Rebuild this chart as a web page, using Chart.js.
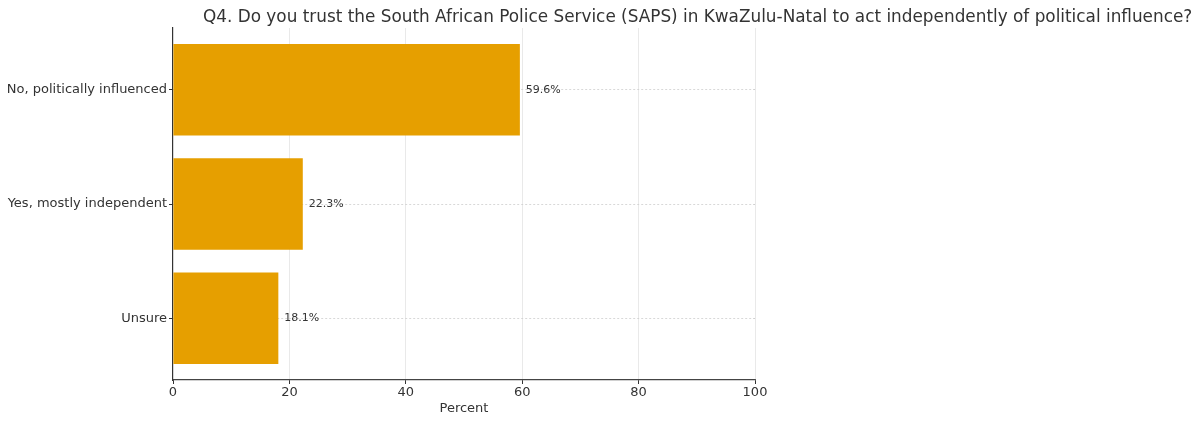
<!DOCTYPE html>
<html>
<head>
<meta charset="utf-8">
<script src="https://cdn.jsdelivr.net/npm/chart.js@4/dist/chart.umd.min.js"></script>
<style>
  html, body { margin: 0; padding: 0; background: #fff; }
  #wrap { width: 1200px; height: 422px; position: relative; }
</style>
</head>
<body>
<div id="wrap"><canvas id="q4Chart" width="1200" height="422"></canvas></div>
<script>
// Survey data
const chartTitle = 'Q4. Do you trust the South African Police Service (SAPS) in KwaZulu-Natal to act independently of political influence?';
const categories = ['No, politically influenced', 'Yes, mostly independent', 'Unsure'];
const percentValues = [59.6, 22.3, 18.1];
const xTicks = [0, 20, 40, 60, 80, 100];
const xAxisLabel = 'Percent';

const FONT = '"DejaVu Sans", "Liberation Sans", sans-serif';
const TEXT = '#333333';

// title drawn left-anchored like the original figure (fit to ~990px wide)
const titlePlugin = {
    id: 'leftTitle',
    afterDraw(chart) {
        const c = chart.ctx;
        c.save();
        c.font = '18px ' + FONT;
        const w = c.measureText(chartTitle).width;
        const size = Math.min(18, 18 * 990 / w);
        c.font = size.toFixed(2) + 'px ' + FONT;
        c.fillStyle = TEXT;
        c.textAlign = 'left';
        c.textBaseline = 'alphabetic';
        c.fillText(chartTitle, 203, 22);
        c.restore();
    }
};

// value labels at the end of each bar
const valueLabels = {
    id: 'valueLabels',
    afterDatasetsDraw(chart) {
        const c = chart.ctx;
        const meta = chart.getDatasetMeta(0);
        c.save();
        c.font = '11px ' + FONT;
        c.fillStyle = TEXT;
        c.textAlign = 'left';
        c.textBaseline = 'middle';
        meta.data.forEach((bar, i) => {
            c.fillText(percentValues[i].toFixed(1) + '%', bar.x + 6, bar.y);
        });
        c.restore();
    }
};

const ctx = document.getElementById('q4Chart').getContext('2d');
const q4Chart = new Chart(ctx, {
    type: 'bar',
    data: {
        datasets: [{
            data: percentValues.map((v, i) => ({ x: v, y: i })),
            backgroundColor: '#E69F00',
            borderWidth: 0,
            categoryPercentage: 0.8,
            barPercentage: 1.0
        }]
    },
    options: {
        indexAxis: 'y',
        responsive: false,
        animation: false,
        layout: { padding: { left: 0, right: 445, top: 28, bottom: 6 } },
        plugins: {
            legend: { display: false },
            tooltip: { enabled: false },
            title: { display: false }
        },
        scales: {
            x: {
                type: 'linear',
                min: 0,
                max: 100,
                afterBuildTicks: (s) => { s.ticks = xTicks.map(v => ({ value: v })); },
                afterFit: (s) => { s.height = 36; },
                grid: {
                    color: (c) => c.tick && c.tick.value === 0 ? 'rgba(0,0,0,0)' : '#e3e3e3',
                    lineWidth: 0.8,
                    tickColor: '#333',
                    tickLength: 4,
                    tickWidth: 1
                },
                border: { color: '#444', width: 1.2 },
                ticks: {
                    color: TEXT,
                    font: { family: FONT, size: 13 },
                    padding: 1
                },
                title: {
                    display: true,
                    text: xAxisLabel,
                    color: TEXT,
                    font: { family: FONT, size: 13 },
                    padding: { top: 0, bottom: 0 }
                }
            },
            y: {
                type: 'linear',
                reverse: true,
                offset: false,
                min: -0.54,
                max: 2.54,
                afterBuildTicks: (s) => { s.ticks = categories.map((c, i) => ({ value: i })); },
                afterFit: (s) => { s.width = 173; },
                grid: {
                    offset: false,
                    color: '#cfcfcf',
                    lineWidth: 0.8,
                    tickColor: '#333',
                    tickLength: 4,
                    tickWidth: 1
                },
                border: { color: '#333', width: 1.2, dash: [2, 2] },
                ticks: {
                    color: TEXT,
                    font: { family: FONT, size: 13 },
                    padding: 2,
                    callback: (v) => categories[v]
                }
            }
        }
    },
    plugins: [titlePlugin, valueLabels]
});
</script>
</body>
</html>
